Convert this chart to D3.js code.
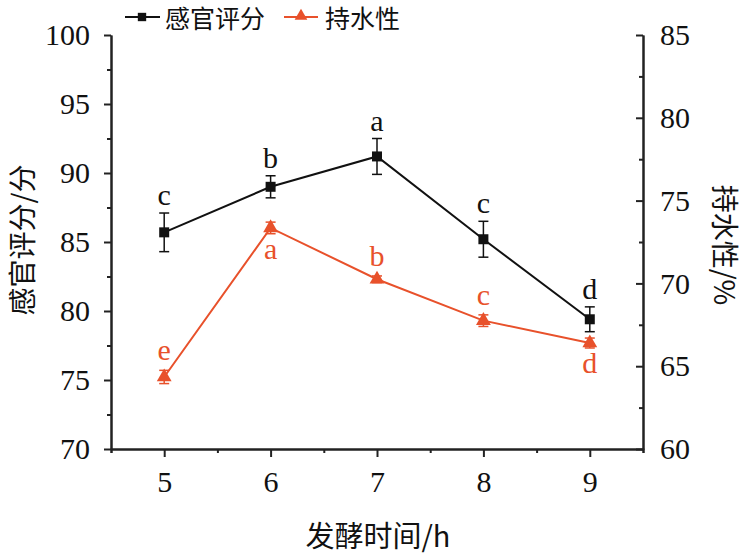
<!DOCTYPE html>
<html><head><meta charset="utf-8">
<script src="https://cdn.jsdelivr.net/npm/d3@7"></script>
<style>
body{margin:0;background:#fff;}
text{font-family:"Liberation Serif","Times New Roman","Noto Sans CJK SC",serif;}
</style></head>
<body><svg id="c" width="751" height="558"></svg>
<script>
const hours = [5, 6, 7, 8, 9];
const sensoryScore = [85.7, 89.0, 91.2, 85.2, 79.4];
const sensoryErr = [1.4, 0.8, 1.3, 1.3, 0.9];
const sensoryLetters = ["c", "b", "a", "c", "d"];
const waterHolding = [64.35, 73.35, 70.25, 67.75, 66.4];
const waterErr = [0.4, 0.35, 0.2, 0.35, 0.3];
const waterLetters = ["e", "a", "b", "c", "d"];
const waterLetterPos = ["above", "below", "above", "above", "below"];
const leftTicks = [70, 75, 80, 85, 90, 95, 100];
const rightTicks = [60, 65, 70, 75, 80, 85];
const seriesNames = ["感官评分", "持水性"];

const RED = "#e8512b";
const svg = d3.select("#c");
const L = 111, R = 643, T = 35, B = 449;
const x = d3.scaleLinear().domain([4.5, 9.5]).range([L, R]);
const yL = d3.scaleLinear().domain([70, 100]).range([B, T]);
const yR = d3.scaleLinear().domain([60, 85]).range([B, T]);
const font = "Liberation Serif";
const cjk = "'Noto Sans CJK SC'";

function styleAxis(g){
  g.selectAll(".domain").attr("stroke","#222").attr("stroke-width",2);
  g.selectAll(".tick line").attr("stroke","#222").attr("stroke-width",2);
  g.selectAll(".tick text").attr("fill","#111").style("font-family",font).style("font-size","30px");
}
const gxMinor = svg.append("g").attr("transform",`translate(0,${B})`)
  .call(d3.axisBottom(x).tickValues([4.5,5.5,6.5,7.5,8.5,9.5]).tickSize(4).tickFormat(""));
styleAxis(gxMinor);
const gx = svg.append("g").attr("transform",`translate(0,${B})`)
  .call(d3.axisBottom(x).tickValues(hours).tickSize(8).tickSizeOuter(0).tickPadding(14).tickFormat(d3.format("d")));
styleAxis(gx);

const gyMinor = svg.append("g").attr("transform",`translate(${L},0)`)
  .call(d3.axisLeft(yL).tickValues(d3.range(72.5,100,5)).tickSize(4).tickSizeOuter(0).tickFormat(""));
styleAxis(gyMinor);
const gy = svg.append("g").attr("transform",`translate(${L},0)`)
  .call(d3.axisLeft(yL).tickValues(leftTicks).tickSize(7).tickSizeOuter(0));
styleAxis(gy);
gy.selectAll(".tick text").attr("x",-21);

const gyRMinor = svg.append("g").attr("transform",`translate(${R},0)`)
  .call(d3.axisRight(yR).tickValues(d3.range(62.5,85,5)).tickSize(4).tickSizeOuter(0).tickFormat(""));
styleAxis(gyRMinor);
gyRMinor.selectAll(".tick line").attr("x2",-4);
const gyR = svg.append("g").attr("transform",`translate(${R},0)`)
  .call(d3.axisRight(yR).tickValues(rightTicks).tickSize(7).tickSizeOuter(0));
styleAxis(gyR);
gyR.selectAll(".tick line").attr("x2",-7);
gyR.selectAll(".tick text").attr("x",17);

function drawSeries(vals, errs, yS, color, marker){
  const g = svg.append("g");
  g.append("path").datum(vals)
    .attr("fill","none").attr("stroke",color).attr("stroke-width",2)
    .attr("d", d3.line().x((d,i)=>x(hours[i])).y(d=>yS(d)));
  vals.forEach((v,i)=>{
    const cx = x(hours[i]);
    const y1 = yS(v+errs[i]), y2 = yS(v-errs[i]);
    g.append("line").attr("x1",cx).attr("x2",cx).attr("y1",y1).attr("y2",y2).attr("stroke",color).attr("stroke-width",1.5);
    [y1,y2].forEach(yy=>g.append("line").attr("x1",cx-5).attr("x2",cx+5).attr("y1",yy).attr("y2",yy).attr("stroke",color).attr("stroke-width",1.5));
    g.append("path").attr("transform",`translate(${cx},${yS(v)})`)
      .attr("d", d3.symbol().type(marker).size(marker===d3.symbolSquare?100:95)())
      .attr("fill",color);
  });
  return g;
}
drawSeries(sensoryScore, sensoryErr, yL, "#111", d3.symbolSquare);
drawSeries(waterHolding, waterErr, yR, RED, d3.symbolTriangle);

sensoryLetters.forEach((t,i)=>{
  svg.append("text").attr("x",x(hours[i])).attr("y",yL(sensoryScore[i]+sensoryErr[i])-8)
    .attr("text-anchor","middle").attr("fill","#111").style("font-size","30px").text(t);
});
waterLetters.forEach((t,i)=>{
  const above = waterLetterPos[i]==="above";
  const yy = above ? yR(waterHolding[i]+waterErr[i])-10 : yR(waterHolding[i]-waterErr[i])+25;
  svg.append("text").attr("x",x(hours[i])).attr("y",yy)
    .attr("text-anchor","middle").attr("fill",RED).style("font-size","30px").text(t);
});

const lg = svg.append("g");
lg.append("line").attr("x1",125).attr("x2",160).attr("y1",17).attr("y2",17).attr("stroke","#111").attr("stroke-width",2);
lg.append("path").attr("transform","translate(142,17)").attr("d",d3.symbol().type(d3.symbolSquare).size(70)()).attr("fill","#111");
lg.append("text").attr("x",165).attr("y",28).style("font-family",cjk).style("font-size","25px").attr("fill","#111").text(seriesNames[0]);
lg.append("line").attr("x1",284).attr("x2",318).attr("y1",17).attr("y2",17).attr("stroke",RED).attr("stroke-width",2);
lg.append("path").attr("transform","translate(301,16)").attr("d",d3.symbol().type(d3.symbolTriangle).size(70)()).attr("fill",RED);
lg.append("text").attr("x",325).attr("y",28).style("font-family",cjk).style("font-size","25px").attr("fill","#111").text(seriesNames[1]);

svg.append("text").attr("transform","translate(33,240) rotate(-90)").attr("text-anchor","middle")
  .style("font-family",cjk).style("font-size","28px").attr("fill","#111").text("感官评分/分");
svg.append("text").attr("transform","translate(714,245) rotate(90)").attr("text-anchor","middle")
  .style("font-family",cjk).style("font-size","28px").attr("fill","#111").text("持水性/%");
svg.append("text").attr("x",378).attr("y",547).attr("text-anchor","middle")
  .style("font-family",cjk).style("font-size","29px").attr("fill","#111").text("发酵时间/h");
</script></body></html>
